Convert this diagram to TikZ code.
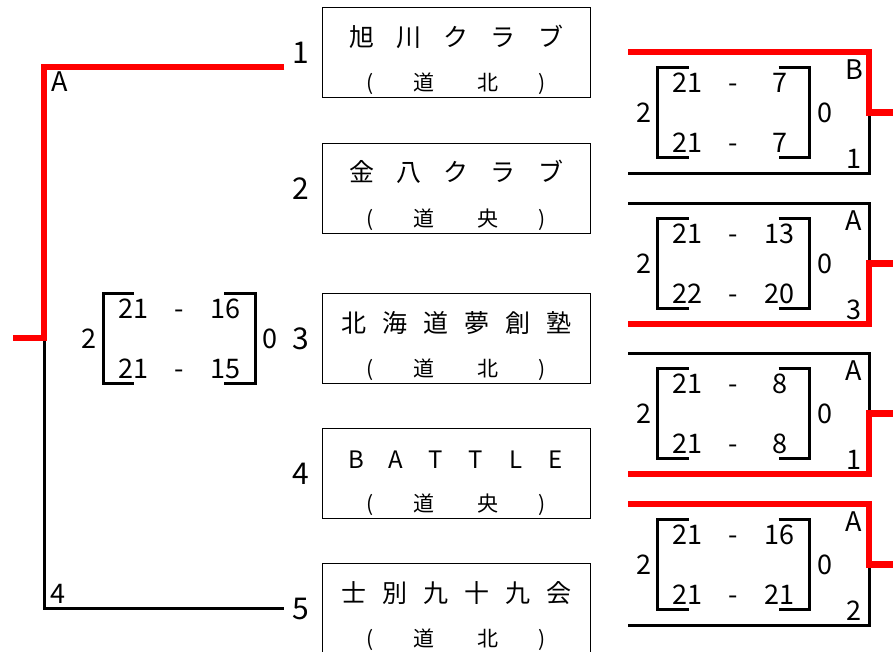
\documentclass[tikz,border=0pt]{standalone}
\usepackage{fontspec}
\setmainfont{Noto Sans CJK JP}
\usetikzlibrary{positioning}

% score card: name, centre, games won left/right, then the two set scores
\newcommand{\scorecard}[8]{%
    \coordinate (#1) at (#2);
    \draw[bracket] ([shift={(-45,-45)}]#1) -- ++(-31,0) -- ++(0,90) -- ++(31,0);
    \draw[bracket] ([shift={(45,-45)}]#1) -- ++(31,0) -- ++(0,90) -- ++(-31,0);
    \node[score] (#1-w) at ([shift={(-90,0)}]#1) {#3};
    \node[score] (#1-l) at ([shift={(91,0)}]#1) {#4};
    \node[score] (#1-a) at ([shift={(-46,-30)}]#1) {#5};
    \node[score] (#1-b) at ([shift={(46,-30)}]#1) {#6};
    \node[score] (#1-c) at ([shift={(-46,30)}]#1) {#7};
    \node[score] (#1-d) at ([shift={(46,30)}]#1) {#8};
    \node[score] (#1-h1) at ([shift={(0,-30)}]#1) {-};
    \node[score] (#1-h2) at ([shift={(0,30)}]#1) {-};
}

\begin{document}
\begin{tikzpicture}[x=1pt, y=-1pt,
    winline/.style={draw=red, line width=6.5pt},
    loseline/.style={draw=black, line width=3pt},
    bracket/.style={draw=black, line width=3pt},
    teambox/.style={draw=black, line width=1pt, minimum width=268pt, minimum height=90pt, anchor=north, inner sep=0pt},
    namechar/.style={font=\fontsize{25}{25}\selectfont, text height=22pt, text depth=3pt, inner sep=0pt},
    areachar/.style={font=\fontsize{21}{21}\selectfont, text height=18.5pt, text depth=2.5pt, inner sep=0pt},
    seed/.style={font=\fontsize{30}{30}\selectfont, text height=22pt, text depth=0pt, inner sep=8pt},
    score/.style={font=\fontsize{27}{27}\selectfont, text height=20pt, text depth=0pt, inner sep=0pt},
    tagtext/.style={font=\fontsize{27}{27}\selectfont, text height=19.5pt, text depth=0pt, inner sep=0pt},
]
    \useasboundingbox (0,0) rectangle (893,651);
    \clip (0,0) rectangle (893,651);

    % team boxes
    \foreach \k/\ty/\reg in {1/7/北, 2/143/央, 3/293/北, 4/428/央, 5/563/北} {
        \node[teambox] (team\k) at (456,\ty) {};
        \node[seed, left=4pt of team\k.west] (n\k) {\k};
        \node[areachar] (ra\k) at (370,\ty+75) {(};
        \node[areachar] (rb\k) at (424,\ty+75) {道};
        \node[areachar] (rc\k) at (488,\ty+75) {\reg};
        \node[areachar] (rd\k) at (542,\ty+75) {)};
    }
    \foreach \ch [count=\i from 0] in {旭,川,ク,ラ,ブ}
        \node[namechar] (na1-\i) at (361.5+\i*47.25,37) {\ch};
    \foreach \ch [count=\i from 0] in {金,八,ク,ラ,ブ}
        \node[namechar] (na2-\i) at (361.5+\i*47.25,172) {\ch};
    \foreach \ch [count=\i from 0] in {北,海,道,夢,創,塾}
        \node[namechar] (na3-\i) at (353.5+\i*41,323) {\ch};
    \foreach \ch [count=\i from 0] in {B,A,T,T,L,E}
        \node[namechar, font=\fontsize{24}{24}\selectfont, text height=18pt, text depth=0pt] (na4-\i) at (356+\i*40,459) {\ch};
    \foreach \ch [count=\i from 0] in {士,別,九,十,九,会}
        \node[namechar] (na5-\i) at (353.5+\i*41,593) {\ch};

    % left bracket
    \coordinate (ltop) at (44,67);
    \coordinate (lmid) at (44,338);
    \coordinate (lbot) at (44,608);
    \draw[loseline] (lmid) -- (lbot) -- (lbot -| n5.west);
    \draw[winline] (ltop -| n1.west) -- (ltop) -- (lmid) -- (13,338);
    \node[tagtext] (wa) at (60,82) {A};
    \node[tagtext] (w4) at (58,594) {4};
    \scorecard{s0}{179,338}{2}{0}{21}{16}{21}{15}

    % right matches
    \foreach \m/\ty/\wy/\lt/\lo/\sone/\stwo/\sthree/\sfour in
        {1/52/52/B/1/21/7/21/7, 2/203/324/A/3/21/13/22/20,
         3/353/474/A/1/21/8/21/8, 4/504/504/A/2/21/16/21/21} {
        \coordinate (mt\m) at (869,\ty);
        \coordinate (mm\m) at (869,\ty+60.5);
        \coordinate (mb\m) at (869,\ty+121);
        \coordinate (mw\m) at (869,\wy);
        \draw[loseline] (628,\ty) -- (mt\m) -- (mb\m) -- (628,\ty+121);
        \draw[winline] (628,\wy) -- (mw\m) -- (mm\m) -- (900,\ty+60.5);
        \node[tagtext] (lt\m) at (854,\ty+18) {\lt};
        \node[tagtext] (lo\m) at (854,\ty+107) {\lo};
        \scorecard{c\m}{733.5,\ty+60.5}{2}{0}{\sone}{\stwo}{\sthree}{\sfour}
    }
\end{tikzpicture}
\end{document}
